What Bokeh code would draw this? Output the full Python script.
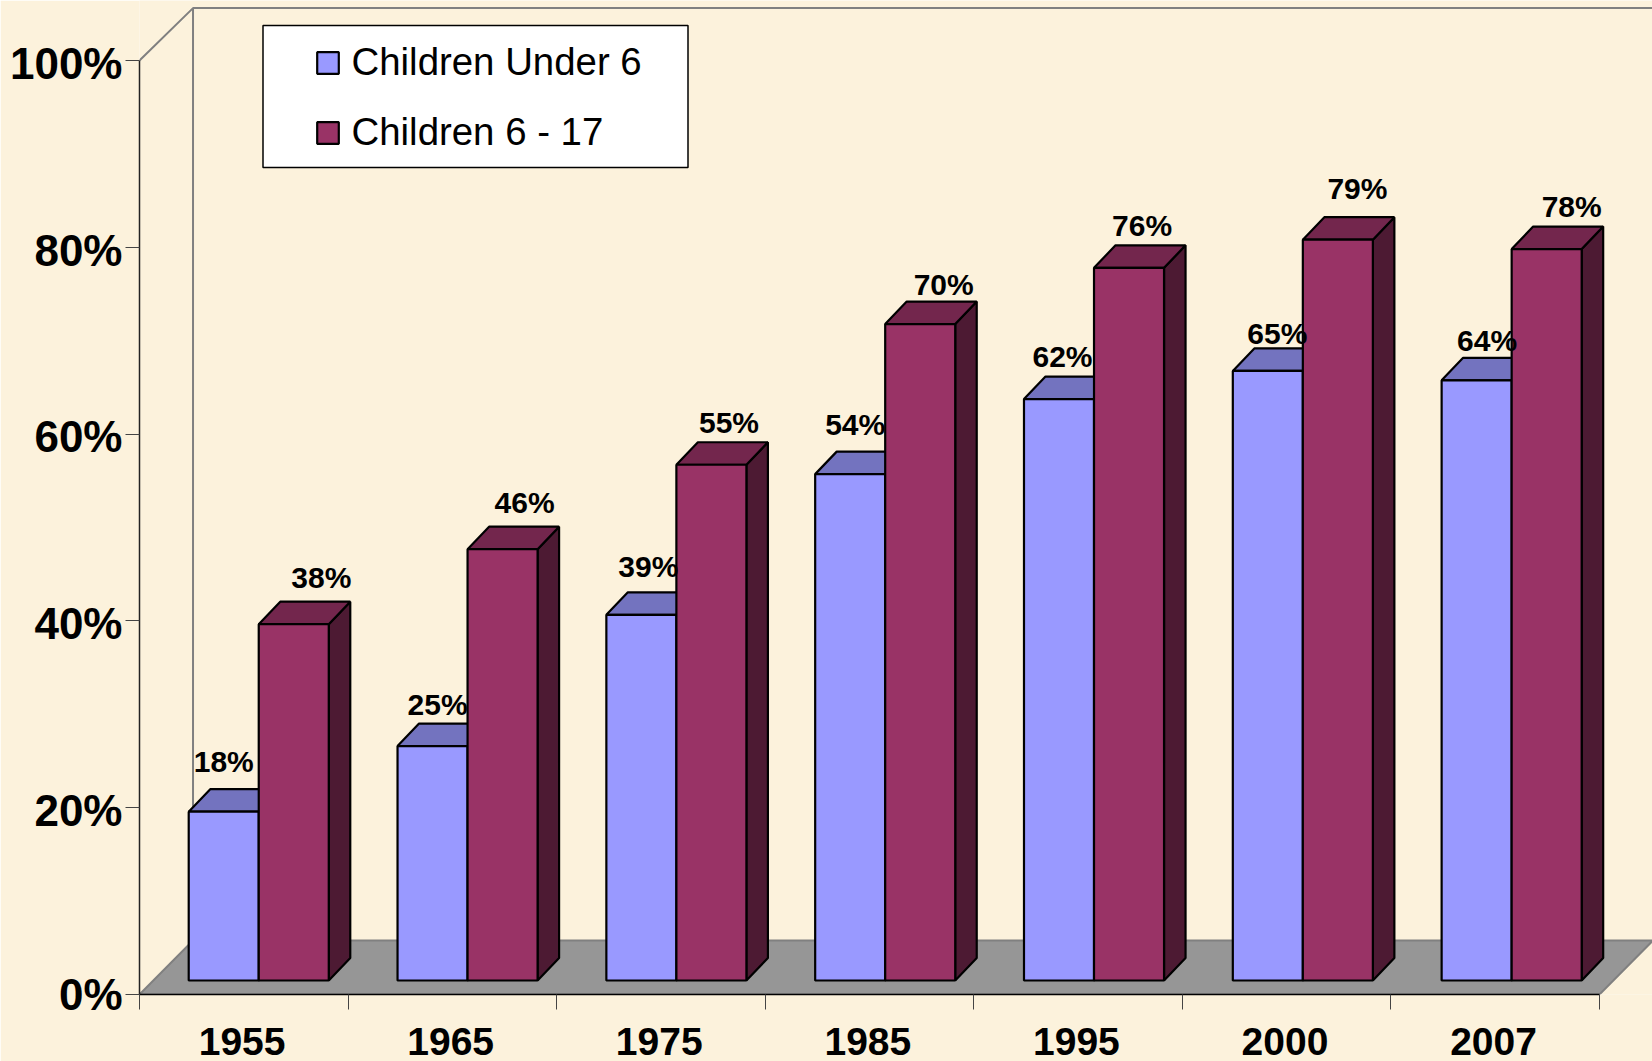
from bokeh.plotting import figure
from bokeh.embed import file_html
from bokeh.resources import INLINE
from bokeh.core.properties import value
from bokeh.models import (Range1d, FixedTicker, Legend, LegendItem,
                          BoxAnnotation, ColumnDataSource)

years = ["1955", "1965", "1975", "1985", "1995", "2000", "2007"]
under6 = [18, 25, 39, 54, 62, 65, 64]
six_17 = [38, 46, 55, 70, 76, 79, 78]
y_ticks = [0, 20, 40, 60, 80, 100]

W, H = 1652, 1061
AX_L, AX_B = 139.5, 994.0
PX_X, PX_Y = 208.5, 9.34
BG = "#FCF2DC"
FONT = "Liberation Sans"

p = figure(width=W, height=H, output_backend="svg", toolbar_location=None,
           x_range=Range1d(0, (W - AX_L) / PX_X), y_range=Range1d(0, AX_B / PX_Y),
           background_fill_color=BG, border_fill_color=BG, outline_line_color=None,
           min_border_left=int(AX_L), min_border_right=0, min_border_top=0,
           min_border_bottom=H - int(AX_B))
p.grid.visible = False

# chart box (floor and walls), depth in axis units
dx_box, dy_box = 53.5 / PX_X, 54 / PX_Y
top_back = 100 + dy_box * .97
n = len(years)
p.patch([0, dx_box, n + dx_box, n], [0, dy_box, dy_box, 0],
        fill_color="#969696", line_color="#808080", line_width=2)
p.line([0, dx_box, dx_box, n + dx_box, n + dx_box], [100, top_back, top_back, top_back, dy_box],
       line_color="#808080", line_width=2)
p.line([dx_box, dx_box], [dy_box, top_back], line_color="#808080", line_width=2)

# 3-D bars
base = 14 / PX_Y
bar_w = 70 / PX_X
first, step = 49.2 / PX_X, 1.0012
ddx, ddy = 21.5 / PX_X, 22.5 / PX_Y
bar_scale = 1.004
LW = 2.2

def draw(vals, shift, front, top, side):
    x0 = [first + i * step + shift for i in range(n)]
    x1 = [a + bar_w for a in x0]
    yt = [base + v * bar_scale for v in vals]
    p.patches([[b, b + ddx, b + ddx, b] for b in x1],
              [[base, base + ddy, t + ddy, t] for t in yt],
              fill_color=side, line_color="black", line_width=LW)
    p.patches([[a, a + ddx, b + ddx, b] for a, b in zip(x0, x1)],
              [[t, t + ddy, t + ddy, t] for t in yt],
              fill_color=top, line_color="black", line_width=LW)
    return p.quad(left=x0, right=x1, bottom=[base] * n, top=yt,
                  fill_color=front, line_color="black", line_width=LW), x0

r_blue, x_blue = draw(under6, 0, "#9999FF", "#7373BF", "#4D4D80")
r_red, x_red = draw(six_17, bar_w, "#993366", "#73264D", "#4D1A33")

# value labels
blue_dx = [0, 5, 7, 5, 3.5, 9.5, 10.5]
red_dx = [27.6, 22, 17.6, 23.5, 13, 19.6, 25]
blue_dy = [17.4, 9.3, 15.7, 17, 9.9, 4.6, 7.7]
red_dy = [13.8, 14.5, 10.2, 6.6, 9.4, 18.2, 10.3]
BASELINE_FIX = 10
for xs, vals, ox, oy in ((x_blue, under6, blue_dx, blue_dy), (x_red, six_17, red_dx, red_dy)):
    src = ColumnDataSource(dict(
        x=[a + bar_w / 2 for a in xs],
        y=[base + v * bar_scale + ddy for v in vals],
        t=[f"{v}%" for v in vals],
        ox=ox, oy=[-o - BASELINE_FIX for o in oy]))
    p.text("x", "y", text="t", source=src, x_offset="ox", y_offset="oy",
           text_align="center", text_baseline="alphabetic", text_color="black",
           text_font=value(FONT), text_font_style="bold", text_font_size=value("30px"))

# axes: the tick marks are the axis' minor ticks, the labels sit a hair below them as in the reference
ya = p.yaxis[0]
label_pos = [t - 0.3 if t else t for t in y_ticks]
ya.ticker = FixedTicker(ticks=label_pos, minor_ticks=y_ticks)
ya.major_label_overrides = {q: f"{t}%" for q, t in zip(label_pos, y_ticks)}
ya.bounds = (0, 100)
ya.axis_line_color = "#222222"
ya.axis_line_width = 1.5
ya.major_tick_out = 14
ya.major_tick_in = 0
ya.major_tick_line_color = None
ya.minor_tick_in = 0
ya.minor_tick_out = 14
ya.minor_tick_line_color = "#444444"
ya.minor_tick_line_width = 1
ya.major_label_standoff = 3
ya.major_label_text_font = FONT
ya.major_label_text_font_style = "bold"
ya.major_label_text_font_size = "44px"
ya.major_label_text_color = "black"

xa = p.xaxis[0]
centers = [i + 0.492 for i in range(n)]
xa.ticker = FixedTicker(ticks=centers, minor_ticks=list(range(n + 1)))
xa.major_label_overrides = {c: y for c, y in zip(centers, years)}
xa.bounds = (0, n)
xa.axis_line_color = "black"
xa.axis_line_width = 1.5
xa.major_tick_in = 0
xa.major_tick_out = 0
xa.minor_tick_in = 0
xa.minor_tick_out = 15
xa.minor_tick_line_color = "#444444"
xa.minor_tick_line_width = 1
xa.major_label_standoff = 18
xa.major_label_text_font = FONT
xa.major_label_text_font_style = "bold"
xa.major_label_text_font_size = "39px"
xa.major_label_text_color = "black"

# legend
p.add_layout(BoxAnnotation(left=263 - AX_L, right=688 - AX_L, top=AX_B - 25, bottom=AX_B - 167,
                           left_units="screen", right_units="screen", top_units="screen", bottom_units="screen",
                           fill_color="white", fill_alpha=1, line_color="black", line_alpha=1, line_width=1.5))
legend = Legend(items=[LegendItem(label="Children Under 6", renderers=[r_blue]),
                       LegendItem(label="Children 6 - 17", renderers=[r_red])],
                location=(314 - AX_L, AX_B - 167 + 13), padding=0, margin=0, spacing=26,
                glyph_width=27, glyph_height=27, label_standoff=11,
                background_fill_alpha=0, border_line_color=None,
                label_text_font=FONT, label_text_font_size="38.4px", label_text_color="black")
p.add_layout(legend, "center")

open("out.html", "w").write(file_html(p, INLINE))
